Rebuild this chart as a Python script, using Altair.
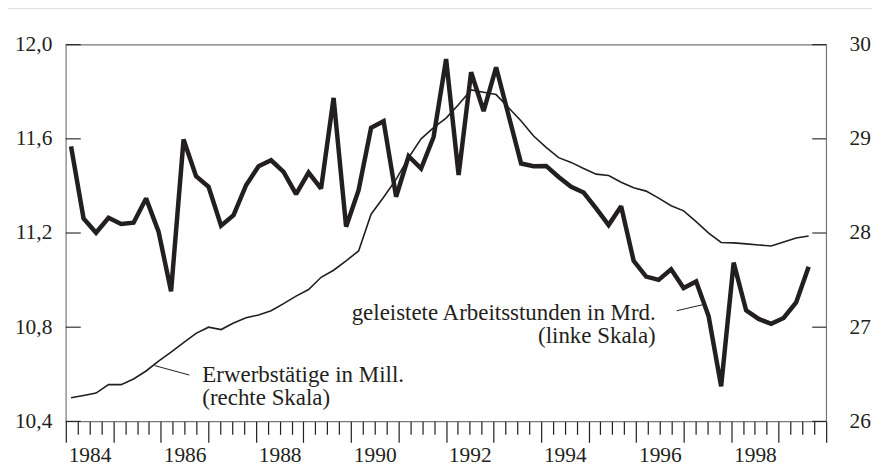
import altair as alt
import pandas as pd

# ---- data ----
years = list(range(1984, 1999))
quarters = [f"{y}-Q{q}" for y in years for q in range(1, 5)]

# geleistete Arbeitsstunden in Mrd. (linke Skala)
stunden = [
    11.568, 11.262, 11.201, 11.265, 11.238, 11.244, 11.347, 11.206,
    10.952, 11.597, 11.441, 11.396, 11.231, 11.276, 11.403, 11.484,
    11.509, 11.460, 11.365, 11.457, 11.389, 11.774, 11.227, 11.382,
    11.647, 11.675, 11.354, 11.526, 11.474, 11.608, 11.939, 11.446,
    11.883, 11.718, 11.904, 11.699, 11.495, 11.484, 11.485, 11.438,
    11.396, 11.372, 11.305, 11.234, 11.314, 11.082, 11.015, 11.001,
    11.046, 10.966, 10.994, 10.846, 10.549, 11.074, 10.871, 10.835,
    10.814, 10.839, 10.905, 11.057,
]

# Erwerbstätige in Mill. (rechte Skala)
erwerbstaetige = [
    26.25, 26.275, 26.30, 26.39, 26.39, 26.45, 26.535, 26.64,
    26.735, 26.835, 26.935, 27.00, 26.975, 27.045, 27.10, 27.13,
    27.175, 27.25, 27.33, 27.40, 27.53, 27.605, 27.705, 27.81,
    28.20, 28.38, 28.57, 28.80, 29.00, 29.12, 29.22, 29.365,
    29.52, 29.495, 29.47, 29.33, 29.19, 29.03, 28.91, 28.80,
    28.75, 28.685, 28.625, 28.61, 28.54, 28.48, 28.445, 28.37,
    28.29, 28.235, 28.12, 28.00, 27.90, 27.895, 27.885, 27.873,
    27.862, 27.905, 27.948, 27.968,
]

left_ticks = [10.4, 10.8, 11.2, 11.6, 12.0]
right_ticks = [26, 27, 28, 29, 30]
x_ticks = [1984 + i * 0.25 for i in range(65)]

df = pd.DataFrame({
    "Quartal": quarters,
    "t": list(range(len(quarters))),
    "Stunden": stunden,
    "Erwerbstaetige": erwerbstaetige,
})

# ---- styling ----
W, H = 763, 378
INK = "#231f20"
FRAME = "#777777"
FONT = "Liberation Serif"
TICK_FS = 21.5
ANN_FS = 23

xs = alt.Scale(domain=[-0.42, 60.40], nice=False, zero=False)
ys_l = alt.Scale(domain=[10.4, 12.0], nice=False, zero=False)
ys_r = alt.Scale(domain=[26, 30], nice=False, zero=False)

one = pd.DataFrame({"d": [0]})

# year axis (own scale)
xaxis = alt.Chart(pd.DataFrame({"Jahr": [x_ticks[0], x_ticks[-1]]})).mark_point(opacity=0).encode(
    x=alt.X(
        "Jahr:Q",
        scale=alt.Scale(domain=[1984, 2000], nice=False, zero=False),
        axis=alt.Axis(
            orient="bottom", values=x_ticks, domain=False, grid=False, title=None,
            tickSize={"condition": {"test": "datum.value % 1 === 0", "value": 21}, "value": 13},
            tickColor=INK, tickWidth=1.2,
            labelExpr="(datum.value % 2 === 0 && datum.value < 2000) ? toString(datum.value) : ''",
            labelOffset=23.85, labelPadding=2, labelFlush=False, labelOverlap=False,
            labelBound=False, labelFont=FONT, labelFontSize=TICK_FS, labelColor=INK,
            labelBaseline="top",
        ),
    )
)

left_axis = alt.Axis(
    orient="left", values=left_ticks, ticks=False, tickSize=0, domain=False,
    grid=False, title=None,
    labelExpr="replace(format(datum.value, '.1f'), '.', ',')",
    labelPadding=14, labelFont=FONT, labelFontSize=TICK_FS, labelColor=INK,
)
right_axis = alt.Axis(
    orient="right", values=right_ticks, ticks=False, tickSize=0, domain=False,
    grid=False, title=None, format="d",
    labelPadding=23, labelFont=FONT, labelFontSize=TICK_FS, labelColor=INK,
)

# left group: hours worked
thick = alt.Chart(df).mark_line(
    color=INK, strokeWidth=4.5, strokeJoin="miter", strokeMiterLimit=2
).encode(
    x=alt.X("t:Q", scale=xs, axis=None),
    y=alt.Y("Stunden:Q", scale=ys_l, axis=left_axis),
)
lticks = alt.Chart(pd.DataFrame({"v": left_ticks})).mark_rule(color=INK, strokeWidth=1.1).encode(
    y=alt.Y("v:Q", scale=ys_l, axis=left_axis),
    x=alt.value(0), x2=alt.value(15),
)
left_group = alt.layer(thick, lticks)

# right group: employed persons
thin = alt.Chart(df).mark_line(color=INK, strokeWidth=1.6).encode(
    x=alt.X("t:Q", scale=xs, axis=None),
    y=alt.Y("Erwerbstaetige:Q", scale=ys_r, axis=right_axis),
)
rticks = alt.Chart(pd.DataFrame({"v": right_ticks})).mark_rule(color=INK, strokeWidth=1.1).encode(
    y=alt.Y("v:Q", scale=ys_r, axis=right_axis),
    x=alt.value(W - 14), x2=alt.value(W),
)
right_group = alt.layer(thin, rticks)

# annotations
ann_e = alt.Chart(one).mark_text(
    align="left", baseline="alphabetic", font=FONT, fontSize=ANN_FS, color=INK, lineHeight=23
).encode(
    x=alt.value(137), y=alt.value(339),
    text=alt.value(["Erwerbstätige in Mill.", "(rechte Skala)"]),
)
ann_s = alt.Chart(one).mark_text(
    align="right", baseline="alphabetic", font=FONT, fontSize=ANN_FS, color=INK, lineHeight=23
).encode(
    x=alt.value(592), y=alt.value(276),
    text=alt.value(["geleistete Arbeitsstunden in Mrd.", "(linke Skala)"]),
)
lead_e = alt.Chart(one).mark_rule(color=INK, strokeWidth=1).encode(
    x=alt.value(89), y=alt.value(322), x2=alt.value(124), y2=alt.value(331.5)
)
lead_s = alt.Chart(one).mark_rule(color=INK, strokeWidth=1).encode(
    x=alt.value(613), y=alt.value(267), x2=alt.value(639), y2=alt.value(261)
)
top_line = alt.Chart(one).mark_rule(color="#888888", strokeWidth=1.3).encode(
    x=alt.value(-58), x2=alt.value(W + 46), y=alt.value(-37.3)
)

chart = alt.layer(
    xaxis, left_group, right_group, ann_e, ann_s, lead_e, lead_s, top_line
).resolve_scale(
    x="independent", y="independent"
).properties(
    width=W, height=H,
    padding={"left": 58, "top": 36, "right": 46, "bottom": 44},
    autosize=alt.AutoSizeParams(type="none"),
).configure_view(
    stroke=FRAME, strokeWidth=1.2
).configure_axis(grid=False)

chart.save("out.html", embed_options={"renderer": "svg", "actions": False})
